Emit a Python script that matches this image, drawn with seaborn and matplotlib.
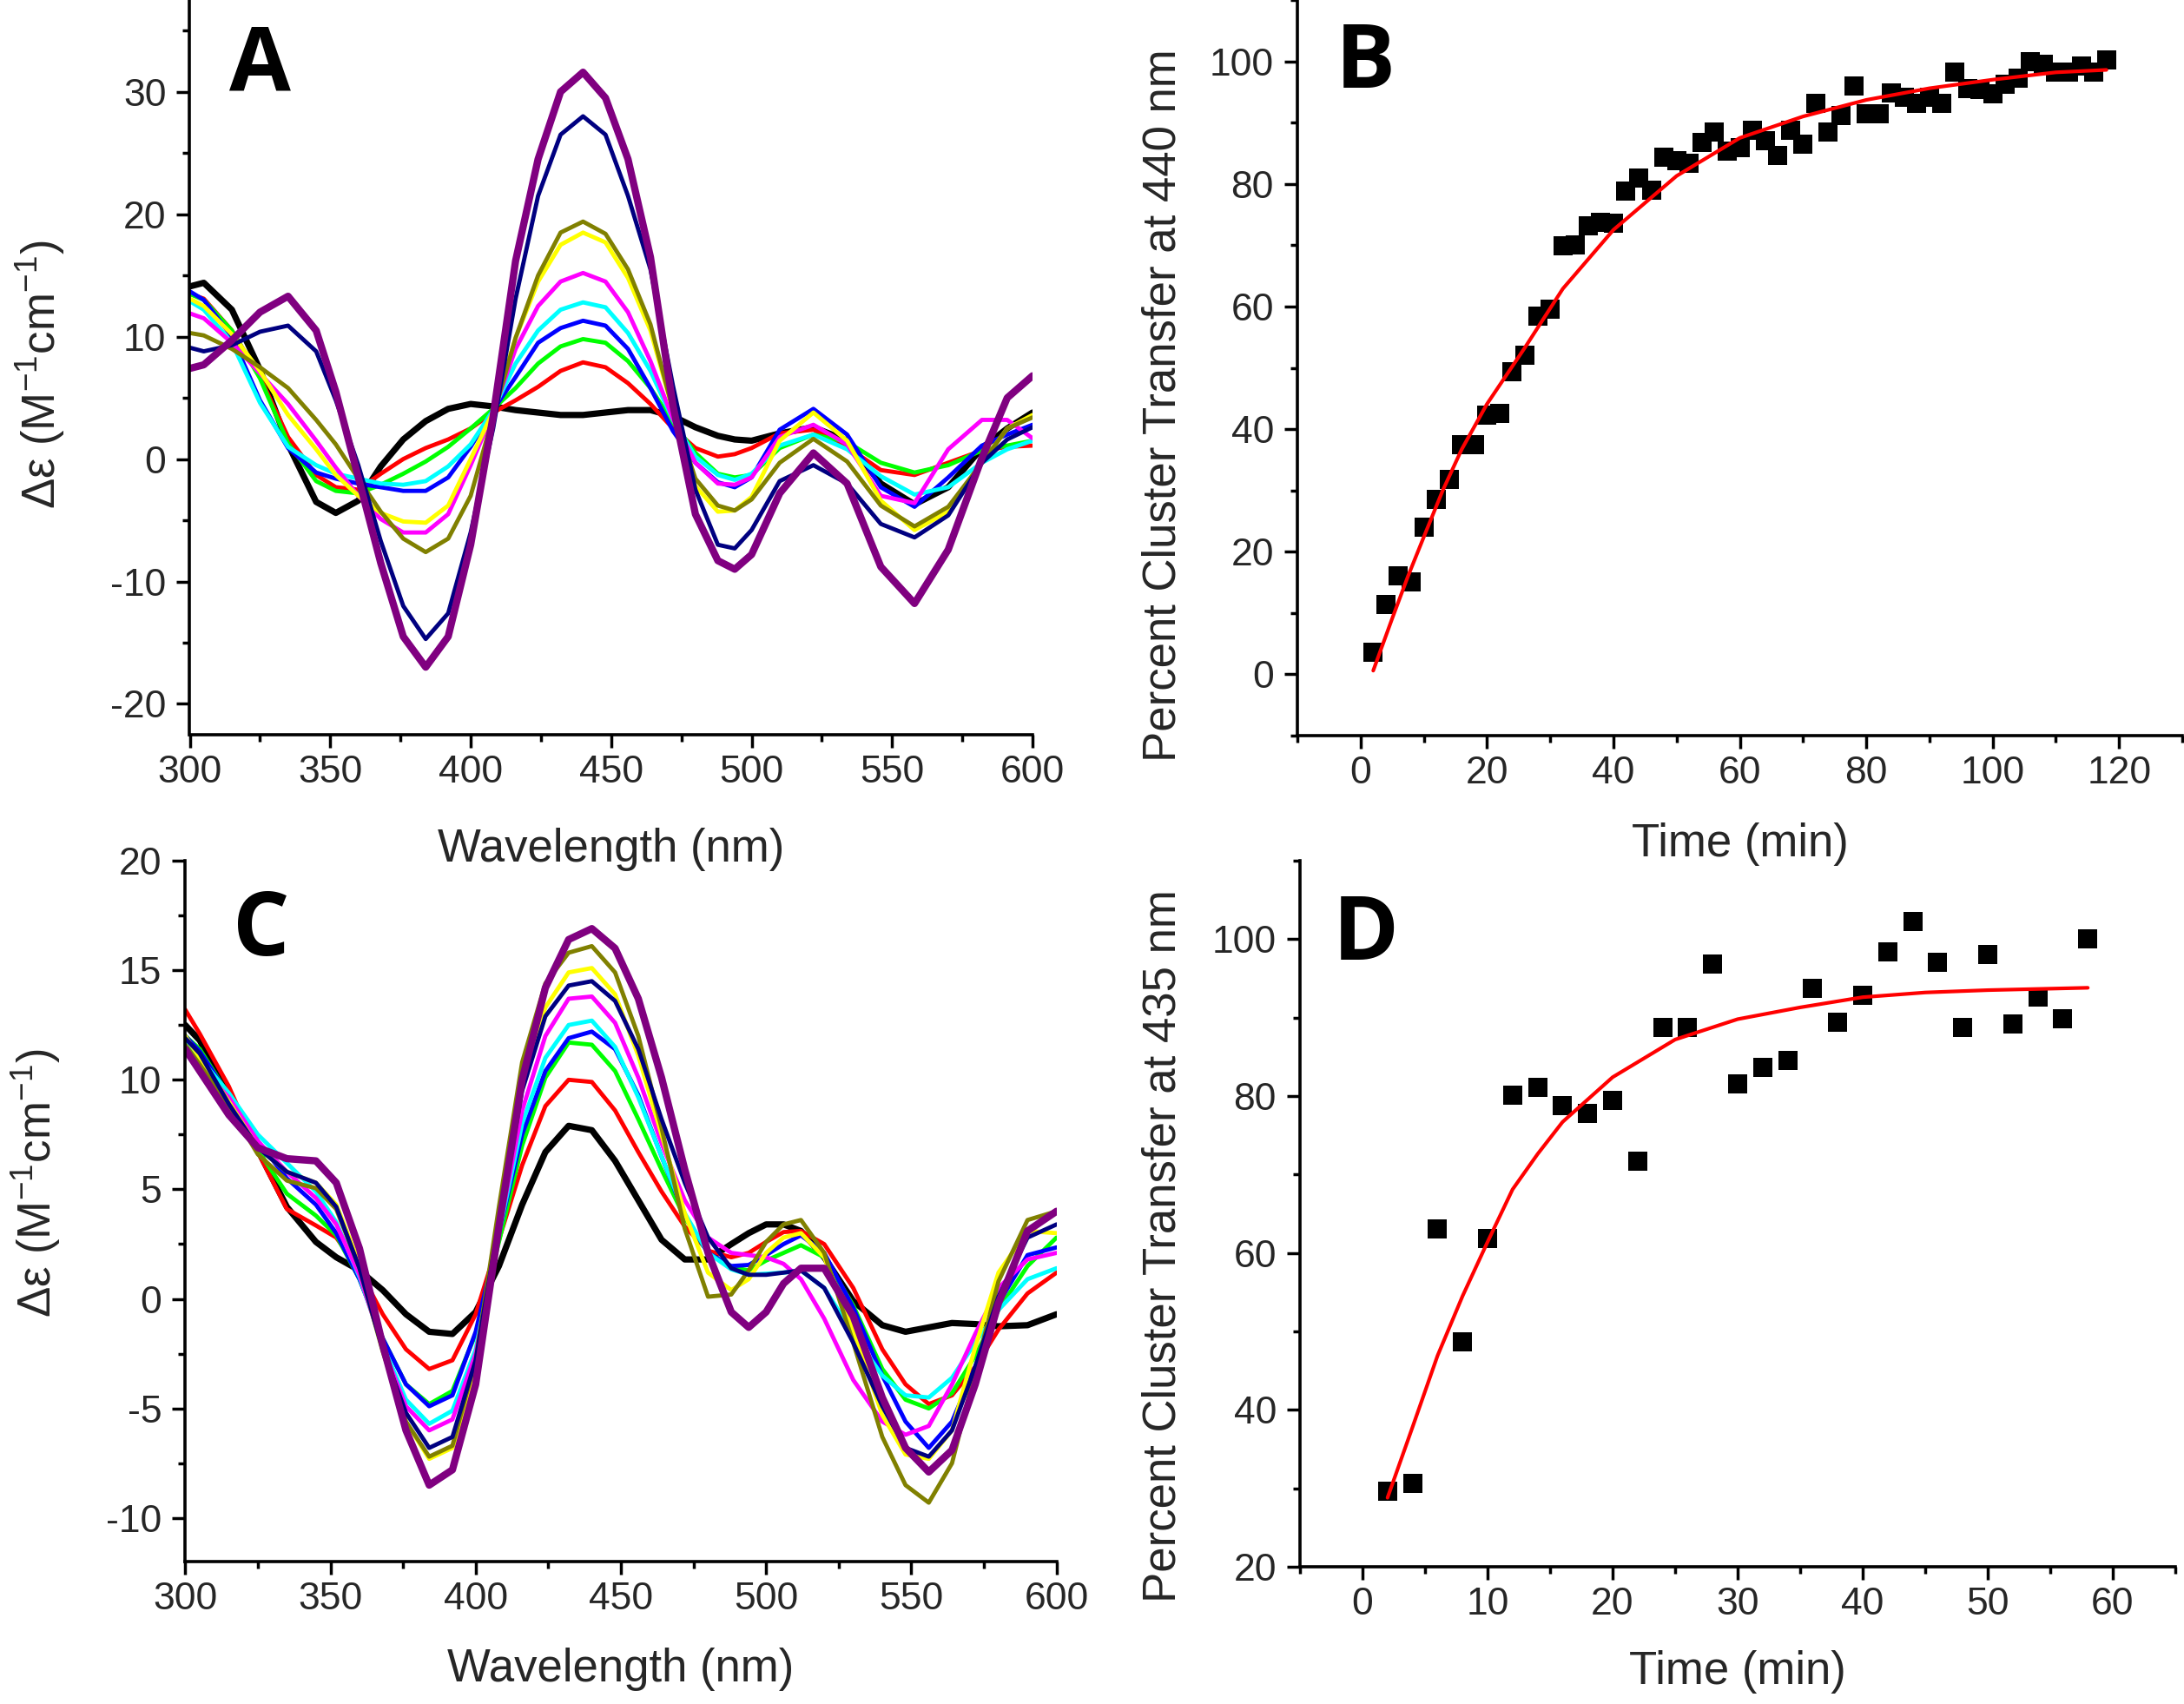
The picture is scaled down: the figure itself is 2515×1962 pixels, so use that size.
import numpy as np
import pandas as pd
import matplotlib
matplotlib.use("Agg")
import matplotlib.pyplot as plt
import seaborn as sns
from matplotlib.ticker import MultipleLocator

# ---------------- data ----------------
series_names = ["black", "red", "green", "blue", "cyan", "magenta", "yellow", "olive", "navy", "purple"]
series_colors = ["#000000", "#FF0000", "#00FF00", "#0000FF", "#00FFFF", "#FF00FF", "#FFFF00", "#808000", "#000080", "#800080"]

wl_a = [300, 305, 315, 325, 335, 345, 352, 360, 368, 376, 384, 392, 400, 408, 416, 424, 432, 440, 448, 456,
        464, 472, 480, 488, 494, 500, 510, 522, 534, 546, 558, 570, 582, 591, 600]
a_black = [14.1, 14.4, 12.2, 7.3, 1.2, -3.5, -4.4, -3.4, -0.6, 1.6, 3.1, 4.1, 4.5, 4.3, 4.0, 3.8, 3.6, 3.6, 3.8, 4.0,
           4.0, 3.5, 2.6, 1.9, 1.6, 1.5, 2.1, 2.6, 1.5, -2.0, -3.7, -2.3, 0.9, 2.5, 3.8]
a_red = [13.5, 13.1, 10.5, 6.7, 1.8, -1.3, -2.3, -2.5, -1.2, 0.0, 0.9, 1.6, 2.5, 3.8, 4.8, 5.9, 7.2, 7.9, 7.5, 6.2,
         4.5, 2.5, 0.9, 0.2, 0.4, 0.9, 2.1, 2.4, 1.0, -0.9, -1.3, -0.3, 0.7, 1.0, 1.1]
a_green = [13.5, 13.0, 10.5, 6.6, 1.3, -1.8, -2.6, -2.8, -2.1, -1.2, -0.2, 1.0, 2.5, 4.1, 5.8, 7.8, 9.2, 9.8, 9.5, 8.0,
           5.8, 3.0, 0.5, -1.2, -1.5, -1.3, 0.9, 2.0, 1.4, -0.3, -1.1, -0.5, 0.7, 1.1, 1.5]
a_blue = [13.7, 13.0, 10.0, 4.8, 0.9, -1.1, -1.6, -2.0, -2.3, -2.6, -2.6, -1.5, 1.0, 4.0, 6.7, 9.5, 10.7, 11.3, 10.9, 9.0,
          5.8, 2.3, -0.3, -1.9, -2.3, -1.5, 2.4, 4.1, 2.0, -2.3, -3.9, -1.5, 1.1, 2.0, 2.8]
a_cyan = [12.9, 12.2, 9.5, 4.6, 1.0, -0.5, -1.2, -1.6, -2.0, -2.1, -1.8, -0.6, 1.2, 4.0, 7.8, 10.5, 12.2, 12.8, 12.4, 10.3,
          7.2, 3.2, 0.2, -1.3, -1.7, -1.2, 1.1, 2.0, 0.8, -1.4, -2.9, -2.3, -0.3, 0.8, 1.5]
a_magenta = [11.9, 11.5, 9.5, 7.0, 4.5, 1.5, -0.7, -3.0, -4.9, -6.0, -6.0, -4.5, -0.5, 3.8, 9.0, 12.5, 14.5, 15.2, 14.5, 12.0,
             8.0, 3.3, -0.3, -2.0, -2.1, -1.5, 1.8, 2.8, 1.2, -3.0, -3.6, 0.8, 3.2, 3.2, 1.7]
a_yellow = [13.1, 12.5, 10.2, 7.2, 3.6, 0.8, -1.3, -3.0, -4.4, -5.1, -5.2, -3.8, 0.0, 3.9, 9.9, 14.5, 17.5, 18.5, 17.7, 14.8,
            10.5, 4.0, -2.2, -4.3, -4.2, -3.1, 1.5, 3.8, 1.5, -3.4, -5.8, -4.3, -0.3, 2.5, 3.6]
a_olive = [10.3, 10.1, 9.0, 7.5, 5.8, 3.2, 1.2, -1.6, -4.3, -6.5, -7.6, -6.5, -3.0, 3.5, 9.9, 15.0, 18.5, 19.4, 18.4, 15.5,
           11.0, 4.0, -1.6, -3.8, -4.2, -3.3, -0.3, 1.65, -0.2, -3.8, -5.5, -3.9, -0.3, 2.5, 3.4]
a_navy = [9.1, 8.8, 9.3, 10.4, 10.9, 8.8, 4.8, -0.5, -6.7, -12.0, -14.7, -12.6, -6.0, 2.5, 13.1, 21.5, 26.5, 28.0, 26.5, 21.5,
          15.5, 6.0, -2.5, -7.0, -7.3, -5.8, -1.8, -0.5, -2.0, -5.3, -6.4, -4.6, -0.3, 1.6, 2.6]
a_purple = [7.4, 7.7, 9.7, 12.0, 13.3, 10.5, 5.5, -1.5, -8.5, -14.5, -17.0, -14.5, -7.0, 3.5, 16.2, 24.5, 30.0, 31.6, 29.5, 24.5,
            16.5, 4.4, -4.5, -8.3, -9.0, -7.8, -2.8, 0.5, -2.0, -8.8, -11.8, -7.4, 0.1, 5.0, 6.8]

wl_c = [300, 305, 315, 325, 335, 345, 352, 360, 368, 376, 384, 392, 400, 408, 416, 424, 432, 440, 448, 456,
        464, 472, 480, 488, 494, 500, 506, 512, 520, 530, 540, 548, 556, 564, 572, 580, 590, 600]
c_black = [12.5, 11.8, 9.4, 6.8, 4.2, 2.6, 1.9, 1.3, 0.4, -0.7, -1.5, -1.6, -0.6, 1.5, 4.3, 6.7, 7.9, 7.7, 6.3, 4.5,
           2.7, 1.8, 1.8, 2.5, 3.0, 3.4, 3.4, 3.1, 1.9, -0.1, -1.2, -1.5, -1.3, -1.1, -1.15, -1.25, -1.2, -0.7]
c_red = [13.2, 12.1, 9.7, 6.7, 4.1, 3.35, 2.8, 1.3, -0.7, -2.3, -3.2, -2.8, -0.7, 2.7, 6.1, 8.8, 10.0, 9.9, 8.6, 6.7,
         4.9, 3.3, 2.2, 1.9, 2.1, 2.6, 3.05, 3.1, 2.5, 0.5, -2.3, -3.9, -4.8, -4.4, -3.1, -1.4, 0.25, 1.2]
c_green = [12.0, 11.4, 9.3, 6.8, 4.8, 3.8, 2.9, 0.9, -1.8, -3.9, -4.8, -4.2, -1.6, 2.6, 7.0, 10.1, 11.7, 11.6, 10.4, 8.2,
           5.9, 3.7, 2.1, 1.45, 1.3, 1.75, 2.1, 2.45, 1.9, -0.3, -3.2, -4.6, -5.0, -4.3, -2.6, -0.5, 1.5, 2.8]
c_blue = [12.0, 11.3, 9.3, 7.2, 5.5, 4.3, 3.0, 0.9, -1.8, -3.9, -4.9, -4.4, -1.5, 3.0, 7.5, 10.4, 11.9, 12.2, 11.4, 9.3,
          6.5, 3.8, 2.1, 1.5, 1.55, 2.0, 2.5, 2.9, 2.1, -0.4, -3.5, -5.6, -6.8, -5.6, -3.1, -0.2, 2.0, 2.35]
c_cyan = [11.8, 11.0, 9.4, 7.5, 6.2, 4.9, 3.5, 1.0, -2.1, -4.6, -5.7, -5.1, -2.3, 3.0, 8.0, 11.0, 12.5, 12.7, 11.5, 9.2,
          6.5, 3.9, 2.1, 1.35, 1.1, 1.15, 1.2, 1.3, 0.5, -1.6, -3.5, -4.4, -4.5, -3.6, -2.0, -0.5, 0.9, 1.4]
c_magenta = [11.2, 10.6, 9.2, 7.2, 5.8, 4.6, 3.4, 1.1, -2.2, -4.9, -6.0, -5.5, -2.5, 3.1, 8.6, 12.0, 13.7, 13.8, 12.6, 10.1,
             7.1, 4.5, 2.8, 2.1, 2.0, 1.9, 1.6, 0.9, -0.9, -3.7, -5.6, -6.2, -5.8, -3.9, -1.6, 0.5, 1.8, 2.1]
c_yellow = [12.0, 11.0, 9.0, 6.9, 5.8, 5.3, 4.3, 1.6, -2.3, -5.6, -7.3, -6.8, -3.3, 3.4, 9.9, 13.3, 14.9, 15.1, 13.9, 11.1,
            7.5, 3.9, 1.2, 0.4, 0.9, 2.1, 2.8, 3.0, 1.9, -1.4, -5.3, -7.1, -7.3, -6.0, -2.2, 1.2, 3.1, 3.0]
c_olive = [11.6, 10.7, 8.8, 6.6, 5.4, 5.05, 4.1, 1.4, -2.4, -5.6, -7.2, -6.7, -2.8, 4.2, 10.8, 14.4, 15.8, 16.1, 14.9, 12.0,
           7.8, 3.2, 0.1, 0.2, 1.3, 2.6, 3.4, 3.6, 2.1, -2.0, -6.3, -8.5, -9.3, -7.5, -3.3, 0.8, 3.6, 4.0]
c_navy = [11.9, 11.2, 8.9, 6.9, 5.8, 5.3, 4.2, 1.4, -2.3, -5.2, -6.8, -6.3, -2.8, 3.5, 9.5, 12.9, 14.3, 14.5, 13.6, 11.4,
          8.2, 5.3, 2.8, 1.4, 1.1, 1.1, 1.2, 1.3, 0.5, -2.0, -4.9, -6.8, -7.2, -6.0, -3.1, 0.1, 2.8, 3.4]
c_purple = [11.4, 10.4, 8.4, 6.9, 6.4, 6.3, 5.3, 2.3, -2.1, -6.0, -8.5, -7.8, -3.9, 3.3, 10.0, 14.2, 16.4, 16.9, 16.0, 13.7,
            10.1, 5.9, 2.1, -0.6, -1.3, -0.6, 0.7, 1.4, 1.4, -0.8, -4.5, -6.8, -7.9, -6.9, -3.9, -0.2, 3.1, 4.0]

b_time = [2, 4, 6, 8, 10, 12, 14, 16, 18, 20, 22, 24, 26, 28, 30, 32, 34, 36, 38, 40,
          42, 44, 46, 48, 50, 52, 54, 56, 58, 60, 62, 64, 66, 68, 70, 72, 74, 76, 78, 80,
          82, 84, 86, 88, 90, 92, 94, 96, 98, 100, 102, 104, 106, 108, 110, 112, 114, 116, 118]
b_pct = [3.6, 11.4, 16.0, 15.1, 24.0, 28.5, 31.8, 37.5, 37.5, 42.3, 42.5, 49.4, 52.0, 58.4, 59.5, 69.9, 70.1, 73.1, 73.8, 73.6,
         78.9, 81.0, 79.0, 84.4, 83.8, 83.3, 86.8, 88.4, 85.4, 85.9, 88.8, 87.1, 84.7, 88.8, 86.5, 93.1, 88.4, 91.2, 96.0, 91.4,
         91.4, 94.9, 94.2, 93.2, 94.2, 93.2, 98.3, 95.6, 95.4, 94.7, 96.2, 97.2, 100.0, 99.5, 98.3, 98.2, 99.3, 98.2, 100.2]
b_fit_time = [2, 5, 7.5, 10, 13, 16, 20, 26, 32, 40, 50, 60, 70, 80, 90, 100, 110, 118]
b_fit_pct = [0.6, 9.1, 16.0, 22.4, 30.0, 36.7, 44.1, 53.3, 62.9, 72.5, 81.3, 87.5, 91.0, 93.7, 95.6, 97.0, 98.2, 98.6]

d_time = [2, 4, 6, 8, 10, 12, 14, 16, 18, 20, 22, 24, 26, 28, 30, 32, 34, 36, 38, 40,
          42, 44, 46, 48, 50, 52, 54, 56, 58]
d_pct = [29.6, 30.6, 63.1, 48.7, 61.8, 80.1, 81.1, 78.8, 77.8, 79.5, 71.7, 88.7, 88.8, 96.8, 81.5, 83.6, 84.5, 93.7, 89.4, 92.8,
         98.4, 102.2, 97.0, 88.7, 98.0, 89.2, 92.6, 89.8, 100.0]
d_fit_time = [2, 4, 6, 8, 10, 12, 14, 16, 20, 25, 30, 35, 40, 45, 50, 58]
d_fit_pct = [28.8, 37.8, 46.9, 54.5, 61.4, 68.1, 72.6, 76.7, 82.4, 87.2, 89.8, 91.3, 92.6, 93.2, 93.5, 93.8]

# ---------------- style ----------------
sns.set_theme(style="ticks")
plt.rcParams['font.family'] = ['Liberation Sans', 'DejaVu Sans']
plt.rcParams['mathtext.fontset'] = 'custom'
plt.rcParams['mathtext.rm'] = 'Liberation Sans'
plt.rcParams['mathtext.it'] = 'Liberation Sans:italic'
plt.rcParams['mathtext.default'] = 'regular'
plt.rcParams['axes.unicode_minus'] = False
plt.rcParams['lines.solid_joinstyle'] = 'round'
plt.rcParams['lines.solid_capstyle'] = 'round'

W, H = 2515, 1962
fig = plt.figure(figsize=(W / 100, H / 100), dpi=100)

def frac(x0, x1, y0, y1):
    return [x0 / W, 1 - y1 / H, (x1 - x0) / W, (y1 - y0) / H]

axA = fig.add_axes(frac(218.5, 1189, 0, 845.7))
axB = fig.add_axes(frac(1494, 2513, 0, 847))
axC = fig.add_axes(frac(213.3, 1216.7, 991, 1798.3))
axD = fig.add_axes(frac(1497, 2505, 991, 1804))

TICK_FS = 32
LABEL_FS = 38

def style_axis(ax):
    sns.despine(ax=ax)
    for s in ("left", "bottom"):
        ax.spines[s].set_linewidth(2.6)
        ax.spines[s].set_color("black")
    ax.tick_params(which="major", direction="out", length=10.5, width=2.5, labelsize=TICK_FS, pad=6, color="black")
    ax.tick_params(which="minor", direction="out", length=6, width=2.5, color="black")
    ax.tick_params(axis="y", which="major", pad=9)
    ax.tick_params(top=False, right=False, which="both")
    ax.set_facecolor("none")
    ax.grid(False)

# ---------- spectra panels ----------
def draw_spectra(ax, wl, curves, thick):
    rows = []
    for name, vals in zip(series_names, curves):
        for w, v in zip(wl, vals):
            rows.append((name, w, v))
    df = pd.DataFrame(rows, columns=["series", "wavelength", "de"])
    for name, col in zip(series_names, series_colors):
        lw = thick.get(name, 3.5)
        sns.lineplot(data=df[df.series == name], x="wavelength", y="de", color=col,
                     linewidth=lw, ax=ax, estimator=None, sort=False, legend=False,
                     solid_joinstyle="round")

a_curves = [a_black, a_red, a_green, a_blue, a_cyan, a_magenta, a_yellow, a_olive, a_navy, a_purple]
c_curves = [c_black, c_red, c_green, c_blue, c_cyan, c_magenta, c_yellow, c_olive, c_navy, c_purple]
draw_spectra(axA, wl_a, a_curves, {"black": 5.2, "purple": 6.0})
draw_spectra(axC, wl_c, c_curves, {"black": 5.2, "purple": 6.0})

for ax, ylim, ymaj, ymin in ((axA, (-22.5, 37.5), 10, 5), (axC, (-12, 20), 5, 2.5)):
    ax.set_xlim(300, 600)
    ax.set_ylim(*ylim)
    ax.xaxis.set_major_locator(MultipleLocator(50))
    ax.xaxis.set_minor_locator(MultipleLocator(25))
    ax.yaxis.set_major_locator(MultipleLocator(ymaj))
    ax.yaxis.set_minor_locator(MultipleLocator(ymin))
    ax.set_xlabel("Wavelength (nm)", fontsize=LABEL_FS)
    ax.set_ylabel("Δε (M$^{-1}$cm$^{-1}$)", fontsize=LABEL_FS)
    style_axis(ax)

axA.xaxis.set_label_coords(0.5, -0.127)
axA.yaxis.set_label_coords(-0.146, 0.49)
axC.xaxis.set_label_coords(0.5, -0.122)
axC.yaxis.set_label_coords(-0.141, 0.54)

# ---------- kinetics panels ----------
def draw_kinetics(ax, t, p, ft, fp):
    pts = pd.DataFrame({"time": t, "pct": p})
    fit = pd.DataFrame({"time": ft, "pct": fp})
    sns.scatterplot(data=pts, x="time", y="pct", marker="s", s=270, color="black",
                    linewidth=0, ax=ax, zorder=2, legend=False)
    sns.lineplot(data=fit, x="time", y="pct", color="#FF0000", linewidth=3.0,
                 ax=ax, estimator=None, sort=False, zorder=3, legend=False,
                 solid_joinstyle="round")

draw_kinetics(axB, b_time, b_pct, b_fit_time, b_fit_pct)
draw_kinetics(axD, d_time, d_pct, d_fit_time, d_fit_pct)

axB.set_xlim(-10, 130)
axB.set_ylim(-10, 110)
axB.xaxis.set_major_locator(MultipleLocator(20))
axB.xaxis.set_minor_locator(MultipleLocator(10))
axB.yaxis.set_major_locator(MultipleLocator(20))
axB.yaxis.set_minor_locator(MultipleLocator(10))
axB.set_xlabel("Time (min)", fontsize=LABEL_FS)
axB.set_ylabel("Percent Cluster Transfer at 440 nm", fontsize=LABEL_FS)
style_axis(axB)
axB.xaxis.set_label_coords(0.5, -0.118)
axB.yaxis.set_label_coords(-0.127, 0.449)

axD.set_xlim(-5, 65)
axD.set_ylim(20, 110)
axD.xaxis.set_major_locator(MultipleLocator(10))
axD.xaxis.set_minor_locator(MultipleLocator(5))
axD.yaxis.set_major_locator(MultipleLocator(20))
axD.yaxis.set_minor_locator(MultipleLocator(10))
axD.set_xlabel("Time (min)", fontsize=LABEL_FS)
axD.set_ylabel("Percent Cluster Transfer at 435 nm", fontsize=LABEL_FS)
style_axis(axD)
axD.xaxis.set_label_coords(0.5, -0.118)
axD.yaxis.set_label_coords(-0.131, 0.455)

# ---------- panel letters ----------
letter_kw = dict(fontsize=74, fontweight="bold", family=["Open Sans", "DejaVu Sans"],
                 ha="left", va="baseline", color="black")
fig.text(264 / W, 1 - 104 / H, "A", **letter_kw)
fig.text(1538 / W, 1 - 101 / H, "B", **letter_kw)
fig.text(268 / W, 1 - 1100 / H, "C", **letter_kw)
fig.text(1535 / W, 1 - 1105 / H, "D", **letter_kw)

fig.savefig("out.png", dpi=100, facecolor="white")
